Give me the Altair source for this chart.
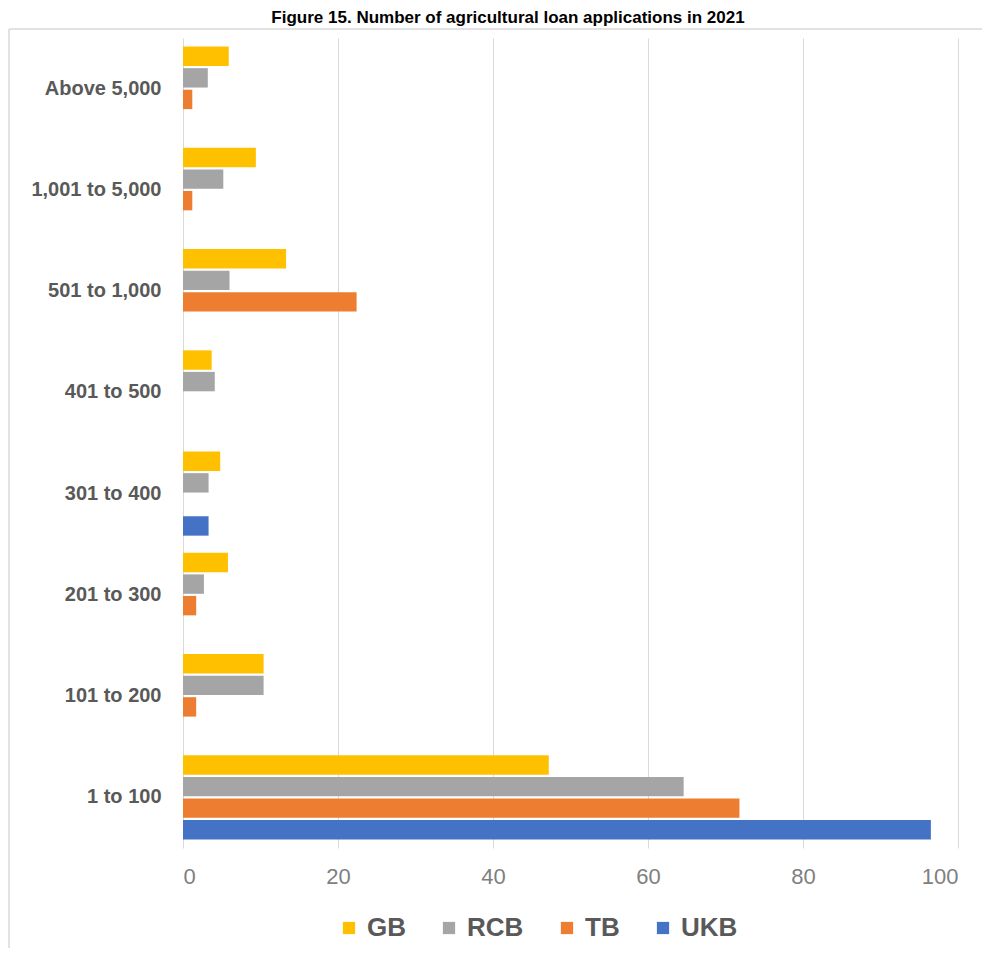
import altair as alt
import pandas as pd

categories = ["Above 5,000", "1,001 to 5,000", "501 to 1,000", "401 to 500",
              "301 to 400", "201 to 300", "101 to 200", "1 to 100"]
series = ["GB", "RCB", "TB", "UKB"]
gb = [5.9, 9.4, 13.3, 3.7, 4.8, 5.8, 10.4, 47.2]
rcb = [3.2, 5.2, 6.0, 4.1, 3.3, 2.7, 10.4, 64.6]
tb = [1.2, 1.2, 22.4, 0, 0, 1.7, 1.7, 71.8]
ukb = [0, 0, 0, 0, 3.3, 0, 0, 96.5]
colors = ["#FFC000", "#A5A5A5", "#ED7D31", "#4472C4"]
x_ticks = [0, 20, 40, 60, 80, 100]
title_text = "Figure 15.  Number of agricultural loan applications in 2021"

rows = []
for name, vals in zip(series, [gb, rcb, tb, ukb]):
    for cat, v in zip(categories, vals):
        rows.append({"category": cat, "series": name, "value": v})
df = pd.DataFrame(rows)

FONT = "Liberation Sans"
one = pd.DataFrame({"a": [0]})

frame_top = alt.Chart(one).mark_rule(color="#d9d9d9", strokeWidth=1.5).encode(
    x=alt.value(-174), x2=alt.value(900), y=alt.value(-9)
)
frame_left = alt.Chart(one).mark_rule(color="#d9d9d9", strokeWidth=1.5).encode(
    x=alt.value(-174), y=alt.value(-9), y2=alt.value(950)
)

title = alt.Chart(pd.DataFrame({"t": [title_text]})).mark_text(
    font=FONT, fontSize=17, fontWeight="bold", color="#000000",
    align="center", baseline="alphabetic"
).encode(
    x=alt.value(325), y=alt.value(-15), text="t:N"
)

bars = alt.Chart(df).mark_bar().encode(
    x=alt.X("value:Q",
            scale=alt.Scale(domain=[0, 100], nice=False),
            axis=alt.Axis(values=x_ticks, grid=True, gridColor="#d9d9d9",
                          gridWidth=1, domain=False, ticks=False,
                          labelFontSize=22, labelColor="#7f7f7f",
                          labelFont=FONT, labelPadding=18, title=None)),
    y=alt.Y("category:N", sort=categories,
            scale=alt.Scale(paddingInner=0.17, paddingOuter=0.085),
            axis=alt.Axis(title=None, ticks=False, domain=False,
                          labelFontSize=20, labelFontWeight="bold",
                          labelColor="#595959", labelFont=FONT,
                          labelPadding=22)),
    yOffset=alt.YOffset("series:N", sort=series,
                        scale=alt.Scale(paddingInner=0.1)),
    color=alt.Color("series:N", sort=series,
                    scale=alt.Scale(domain=series, range=colors),
                    legend=alt.Legend(orient="none", legendX=153, legendY=877,
                                      direction="horizontal", title=None,
                                      symbolType="square", symbolSize=150,
                                      symbolStrokeWidth=0,
                                      labelFontSize=26, labelFontWeight="bold",
                                      labelColor="#595959", labelFont=FONT,
                                      labelOffset=5, columnPadding=30)),
)

chart = alt.layer(frame_top, frame_left, title, bars).properties(
    width=775, height=810,
    autosize=alt.AutoSizeParams(type="none"),
    padding={"left": 175, "top": 30, "right": 24, "bottom": 100},
    background="white",
).configure_view(stroke=None)

chart.save("out.html", embed_options={"renderer": "svg", "actions": False})
